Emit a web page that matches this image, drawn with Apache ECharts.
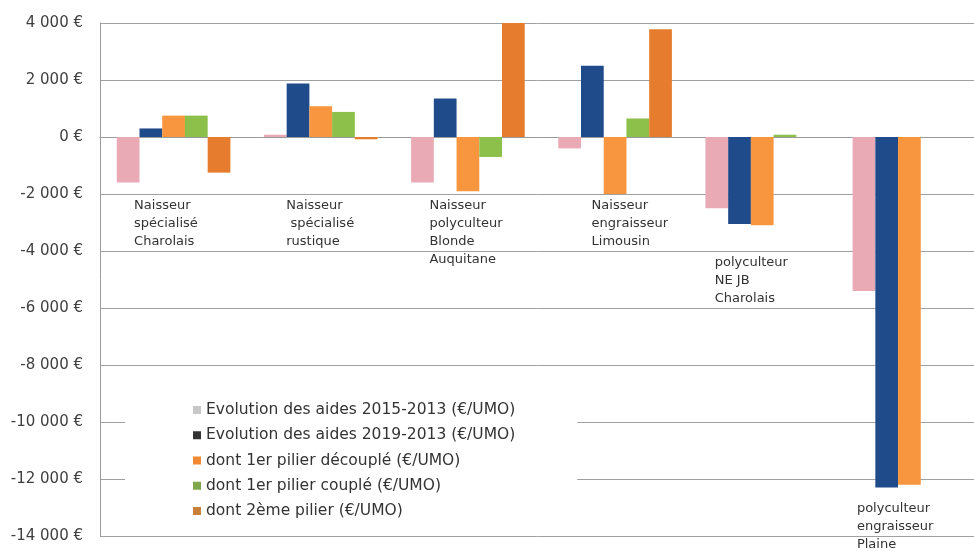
<!DOCTYPE html>
<html><head><meta charset="utf-8">
<script src="https://cdn.jsdelivr.net/npm/echarts@6/dist/echarts.min.js"></script>
<style>html,body{margin:0;padding:0;background:#fff}#c{width:974px;height:551px}</style>
</head><body><div id="c"></div>
<script>
// ---- data ----
const categories = [
  'Naisseur\nspécialisé\nCharolais',
  'Naisseur\n spécialisé\nrustique',
  'Naisseur\npolyculteur\nBlonde\nAuquitane',
  'Naisseur\nengraisseur\nLimousin',
  'polyculteur\nNE JB\nCharolais',
  'polyculteur\nengraisseur\nPlaine'
];
const seriesNames = [
  'Evolution des aides 2015-2013 (€/UMO)',
  'Evolution des aides 2019-2013 (€/UMO)',
  'dont 1er pilier découplé (€/UMO)',
  'dont 1er pilier couplé (€/UMO)',
  'dont 2ème pilier (€/UMO)'
];
const evol2015 = [-1600, 80, -1600, -400, -2500, -5400];
const evol2019 = [300, 1880, 1350, 2500, -3050, -12300];
const pilier1Decouple = [750, 1080, -1900, -2000, -3100, -12200];
const pilier1Couple = [750, 880, -700, 650, 80, null];
const pilier2 = [-1250, -80, 4000, 3780, null, null];
const yMin = -14000, yMax = 4000, yStep = 2000;

// ---- styles ----
const barColors = ['#e9aab5', '#1f4b8a', '#f7963f', '#8cc04a', '#e67d2e'];
const legendColors = ['#c8c8c8', '#333333', '#f28a35', '#7fa84a', '#c8803a'];
const labelBlockWidth = [79, 69, 77, 47, 95, 105];
const labelTopSpace = [0, 0, 0, 0, 57, 303];

const rich = {};
labelBlockWidth.forEach((w, i) => {
  rich['w' + i] = { width: w, align: 'left', lineHeight: 18, fontSize: 13, fontFamily: 'DejaVu Sans', color: '#333' };
  rich['sp' + i] = { lineHeight: labelTopSpace[i] || 1, fontSize: 1 };
});

const allData = [evol2015, evol2019, pilier1Decouple, pilier1Couple, pilier2];

const chart = echarts.init(document.getElementById('c'));
chart.setOption({
  animation: false,
  backgroundColor: '#fff',
  grid: { left: 100, right: -9, top: 23, bottom: 15, containLabel: false, outerBoundsMode: 'none' },
  legend: {
    orient: 'vertical',
    left: 125, top: 368,
    padding: [34, 62, 13, 68],
    backgroundColor: '#fff',
    itemWidth: 8, itemHeight: 8, itemGap: 9.25,
    icon: 'rect',
    textStyle: { fontFamily: 'DejaVu Sans', fontSize: 15.5, lineHeight: 16, color: '#333' },
    data: seriesNames.map((n, i) => ({ name: n, itemStyle: { color: legendColors[i] } }))
  },
  xAxis: {
    type: 'category',
    data: categories,
    axisLine: { onZero: true, lineStyle: { color: '#9a9a9a' } },
    axisTick: { show: false },
    axisLabel: {
      interval: 0,
      margin: -339,
      align: 'center',
      verticalAlign: 'top',
      formatter: function (value, index) {
        let s = '';
        if (labelTopSpace[index]) s += '{sp' + index + '|\u00a0}\n';
        s += value.split('\n').map(l => '{w' + index + '|' + l + '}').join('\n');
        return s;
      },
      rich: rich
    }
  },
  yAxis: {
    type: 'value',
    min: yMin, max: yMax, interval: yStep,
    axisLine: { show: true, lineStyle: { color: '#9a9a9a' } },
    axisTick: { show: false },
    splitLine: { lineStyle: { color: '#a0a0a0', width: 1 } },
    axisLabel: {
      margin: 17,
      fontFamily: 'DejaVu Sans', fontSize: 15, color: '#404040',
      formatter: function (v) {
        const neg = v < 0;
        const s = Math.abs(v).toString().replace(/\B(?=(\d{3})+(?!\d))/g, ' ');
        return (neg ? '-' : '') + s + ' €';
      }
    }
  },
  series: seriesNames.map((n, i) => ({
    name: n,
    type: 'bar',
    data: allData[i],
    barGap: '0%',
    barCategoryGap: '22.8%',
    itemStyle: { color: barColors[i] }
  }))
});
</script>
</body></html>
